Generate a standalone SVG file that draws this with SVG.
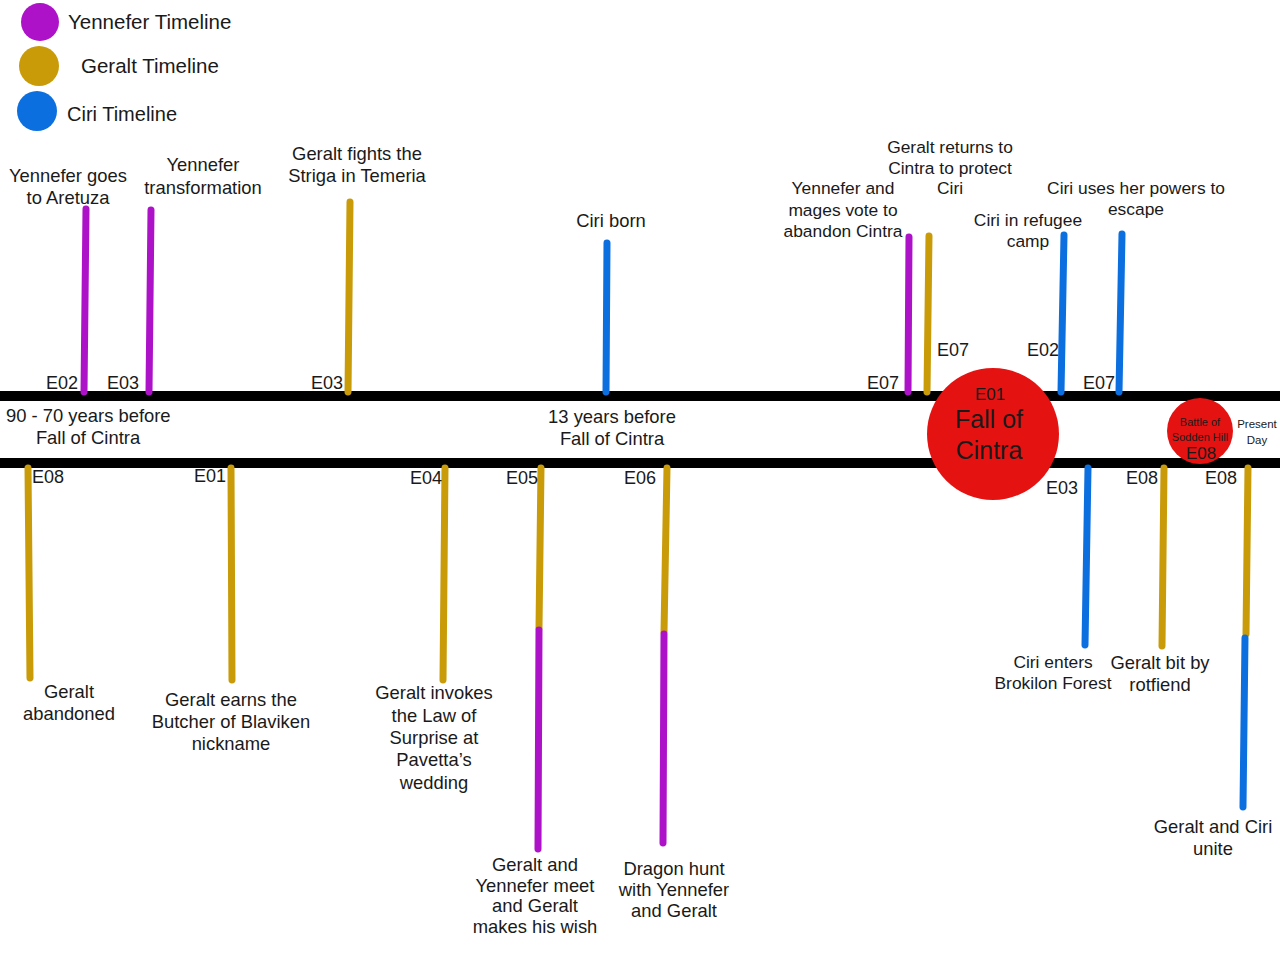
<svg xmlns="http://www.w3.org/2000/svg" width="1280" height="960" viewBox="0 0 1280 960">
<style>
text{font-family:"Liberation Sans",Arial,sans-serif;fill:#1a1a1a}
.l{font-size:18.4px;text-anchor:middle}
.s{font-size:17.4px}
.e{font-size:18px}
.y{stroke:#ad12c8;stroke-width:7;stroke-linecap:round;fill:none}
.g{stroke:#c99b08;stroke-width:7;stroke-linecap:round;fill:none}
.b{stroke:#0b6fe0;stroke-width:7;stroke-linecap:round;fill:none}
.axis{stroke:#000;stroke-width:10;fill:none}
</style>
<rect width="1280" height="960" fill="#fff"/>
<g id="legend">
<circle cx="40" cy="22" r="19" fill="#ad12c8"/>
<circle cx="39" cy="66" r="20" fill="#c99b08"/>
<circle cx="37" cy="111" r="20" fill="#0b6fe0"/>
<text x="68" y="29" font-size="20.5">Yennefer Timeline</text>
<text x="81" y="73" font-size="20.5">Geralt Timeline</text>
<text x="67" y="121" font-size="20">Ciri Timeline</text>
</g>
<g id="connectors">
<path class="axis" d="M0 396 L1280 396"/>
<path class="axis" d="M0 463 L1280 463"/>
<path class="y" d="M86 209 L84 392"/>
<path class="y" d="M151 210 L149 392"/>
<path class="g" d="M350 202 L348 392"/>
<path class="b" d="M607 243 L606 392"/>
<path class="y" d="M909 237 L908 392"/>
<path class="g" d="M929 236 L927 392"/>
<path class="b" d="M1064 235 L1061 392"/>
<path class="b" d="M1122 234 L1119 392"/>
<path class="g" d="M28 468 L30 678"/>
<path class="g" d="M231 468 L232 680"/>
<path class="g" d="M445 468 L443 680"/>
<path class="g" d="M541 468 L539 628"/>
<path class="y" d="M539 630 L538 849"/>
<path class="g" d="M667 468 L664 632"/>
<path class="y" d="M664 634 L663 843"/>
<path class="b" d="M1088 468 L1085 645"/>
<path class="g" d="M1164 468 L1162 646"/>
<path class="g" d="M1248 468 L1246 634"/>
<path class="b" d="M1245 638 L1243 807"/>
</g>
<g id="fall-of-cintra">
<circle cx="993" cy="434" r="66" fill="#e51212"/>
<text x="990" y="400" font-size="17" text-anchor="middle" fill="#3a0505">E01</text>
<text x="989" y="428" font-size="25" text-anchor="middle" fill="#3a0505">Fall of</text>
<text x="989" y="459" font-size="25" text-anchor="middle" fill="#3a0505">Cintra</text>
</g>
<g id="sodden-hill">
<circle cx="1200" cy="431" r="33" fill="#e51212"/>
<text x="1200" y="426" font-size="11" text-anchor="middle" fill="#7a0a0a">Battle of</text>
<text x="1200" y="441" font-size="11" text-anchor="middle" fill="#7a0a0a">Sodden Hill</text>
<text x="1201" y="459" font-size="17" text-anchor="middle" fill="#6a0606">E08</text>
</g>
<g id="present-day">
<text x="1257" y="428" font-size="11.5" text-anchor="middle">Present</text>
<text x="1257" y="444" font-size="11.5" text-anchor="middle">Day</text>
</g>
<g id="eras">
<text x="6" y="422" font-size="18.4">90 - 70 years before</text>
<text x="88" y="444" class="l">Fall of Cintra</text>
<text x="612" y="423" class="l">13 years before</text>
<text x="612" y="445" class="l">Fall of Cintra</text>
</g>
<g id="episodes" class="e">
<text x="46" y="389">E02</text>
<text x="107" y="389">E03</text>
<text x="311" y="389">E03</text>
<text x="867" y="389">E07</text>
<text x="937" y="356">E07</text>
<text x="1027" y="356">E02</text>
<text x="1083" y="389">E07</text>
<text x="32" y="483">E08</text>
<text x="194" y="482">E01</text>
<text x="410" y="484">E04</text>
<text x="506" y="484">E05</text>
<text x="624" y="484">E06</text>
<text x="1046" y="494">E03</text>
<text x="1126" y="484">E08</text>
<text x="1205" y="484">E08</text>
</g>
<g id="n-aretuza"><text class="l" x="68" y="182">Yennefer goes</text><text class="l" x="68" y="204">to Aretuza</text></g>
<g id="n-transformation"><text class="l" x="203" y="171">Yennefer</text><text class="l" x="203" y="194">transformation</text></g>
<g id="n-striga"><text class="l" x="357" y="160">Geralt fights the</text><text class="l" x="357" y="182">Striga in Temeria</text></g>
<g id="n-ciri-born"><text class="l" x="611" y="227">Ciri born</text></g>
<g id="n-geralt-returns"><text class="l s" x="950" y="153">Geralt returns to</text><text class="l s" x="950" y="174">Cintra to protect</text><text class="l s" x="950" y="194">Ciri</text></g>
<g id="n-mages-vote"><text class="l s" x="843" y="194">Yennefer and</text><text class="l s" x="843" y="216">mages vote to</text><text class="l s" x="843" y="237">abandon Cintra</text></g>
<g id="n-refugee"><text class="l s" x="1028" y="226">Ciri in refugee</text><text class="l s" x="1028" y="247">camp</text></g>
<g id="n-escape"><text class="l s" x="1136" y="194">Ciri uses her powers to</text><text class="l s" x="1136" y="215">escape</text></g>
<g id="n-abandoned"><text class="l" x="69" y="698">Geralt</text><text class="l" x="69" y="720">abandoned</text></g>
<g id="n-butcher"><text class="l" x="231" y="706">Geralt earns the</text><text class="l" x="231" y="728">Butcher of Blaviken</text><text class="l" x="231" y="750">nickname</text></g>
<g id="n-surprise"><text class="l" x="434" y="699">Geralt invokes</text><text class="l" x="434" y="722">the Law of</text><text class="l" x="434" y="744">Surprise at</text><text class="l" x="434" y="766">Pavetta’s</text><text class="l" x="434" y="789">wedding</text></g>
<g id="n-meet"><text class="l" x="535" y="871">Geralt and</text><text class="l" x="535" y="892">Yennefer meet</text><text class="l" x="535" y="912">and Geralt</text><text class="l" x="535" y="933">makes his wish</text></g>
<g id="n-dragon"><text class="l" x="674" y="875">Dragon hunt</text><text class="l" x="674" y="896">with Yennefer</text><text class="l" x="674" y="917">and Geralt</text></g>
<g id="n-brokilon"><text class="l s" x="1053" y="668">Ciri enters</text><text class="l s" x="1053" y="689">Brokilon Forest</text></g>
<g id="n-rotfiend"><text class="l" x="1160" y="669">Geralt bit by</text><text class="l" x="1160" y="691">rotfiend</text></g>
<g id="n-unite"><text class="l" x="1213" y="833">Geralt and Ciri</text><text class="l" x="1213" y="855">unite</text></g>
</svg>
